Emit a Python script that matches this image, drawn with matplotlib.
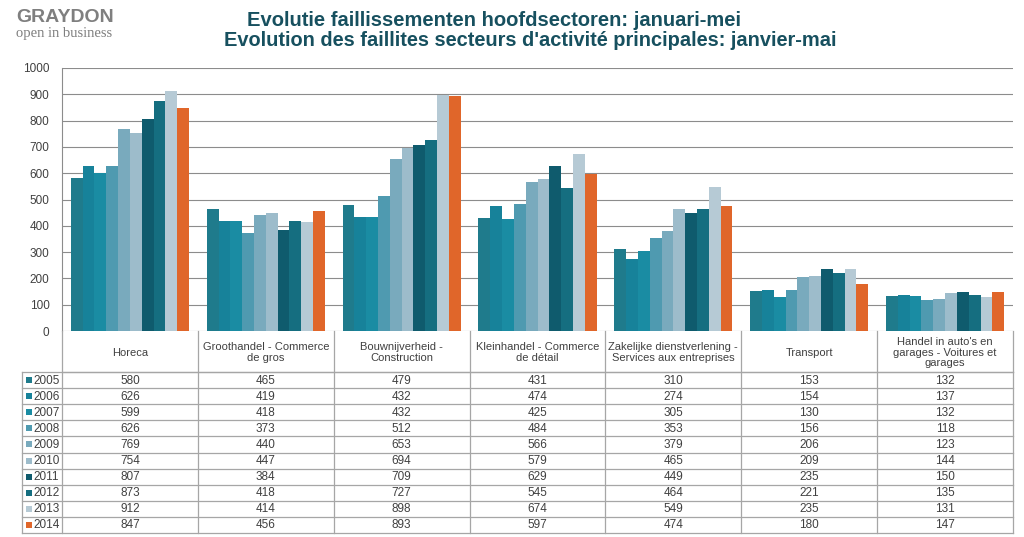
import matplotlib

matplotlib.use("Agg")
import matplotlib.pyplot as plt
import numpy as np

plt.rcParams["font.family"] = ["Liberation Sans", "DejaVu Sans"]

categories = [
    "Horeca",
    "Groothandel - Commerce\nde gros",
    "Bouwnijverheid -\nConstruction",
    "Kleinhandel - Commerce\nde détail",
    "Zakelijke dienstverlening -\nServices aux entreprises",
    "Transport",
    "Handel in auto's en\ngarages - Voitures et\ngarages",
]
years = ["2005", "2006", "2007", "2008", "2009", "2010", "2011", "2012", "2013", "2014"]
values = [
    [580, 465, 479, 431, 310, 153, 132],
    [626, 419, 432, 474, 274, 154, 137],
    [599, 418, 432, 425, 305, 130, 132],
    [626, 373, 512, 484, 353, 156, 118],
    [769, 440, 653, 566, 379, 206, 123],
    [754, 447, 694, 579, 465, 209, 144],
    [807, 384, 709, 629, 449, 235, 150],
    [873, 418, 727, 545, 464, 221, 135],
    [912, 414, 898, 674, 549, 235, 131],
    [847, 456, 893, 597, 474, 180, 147],
]
colors = [
    "#1f7b8c", "#17829a", "#1a8ca3", "#4f9ab0", "#79aabd",
    "#9dbccb", "#0f5b6d", "#156e80", "#b6cad5", "#e0662a",
]

W, H = 1024, 537
fig = plt.figure(figsize=(W / 100, H / 100), dpi=100)
fig.patch.set_facecolor("white")

# plot area in pixels
px_left, px_right, px_top, px_bottom = 62, 1013, 68, 331
ax = fig.add_axes([px_left / W, 1 - px_bottom / H,
                   (px_right - px_left) / W, (px_bottom - px_top) / H])

n_cat = len(categories)
n_ser = len(years)
group_w = 0.87
bw = group_w / n_ser
x = np.arange(n_cat)
for i, (yr, vals) in enumerate(zip(years, values)):
    ax.bar(x + 0.5 - group_w / 2 + bw * (i + 0.5), vals, width=bw,
           color=colors[i], linewidth=0, zorder=3)

ax.set_xlim(0, n_cat)
ax.set_ylim(0, 1000)
ax.set_yticks(np.arange(0, 1001, 100))
ax.set_xticks([])
ax.grid(axis="y", color="#8c8c8c", lw=0.8, zorder=0)
for s in ["top", "right", "bottom"]:
    ax.spines[s].set_visible(False)
ax.spines["left"].set_color("#8c8c8c")
ax.tick_params(axis="y", length=0, pad=9, labelsize=8.5, labelcolor="#404040")

# data table below the plot
tb = fig.add_axes([0, 0, 1, 1])
tb.set_xlim(0, W)
tb.set_ylim(H, 0)
tb.axis("off")
line_c = "#a6a6a6"
head_bot = 372
row_h = (533 - head_bot) / n_ser
cat_w = (px_right - px_left) / n_cat
leg_left = 22

for j in range(n_cat + 1):
    xx = px_left + j * cat_w
    tb.plot([xx, xx], [px_bottom, 533], color=line_c, lw=0.9)
tb.plot([px_left, px_right], [head_bot, head_bot], color=line_c, lw=0.9)
tb.plot([leg_left, leg_left], [head_bot, 533], color=line_c, lw=0.9)
for r in range(n_ser + 1):
    yy = head_bot + r * row_h
    tb.plot([leg_left, px_right], [yy, yy], color=line_c, lw=0.9)

for j, cat in enumerate(categories):
    tb.text(px_left + (j + 0.5) * cat_w, (px_bottom + head_bot) / 2 + 1, cat,
            ha="center", va="center", fontsize=8, color="#404040",
            linespacing=1.05)

for r, (yr, vals) in enumerate(zip(years, values)):
    yy = head_bot + (r + 0.5) * row_h
    tb.plot([29], [yy], marker="s", ms=4.5, color=colors[r], mew=0)
    tb.text(33, yy + 0.5, yr, ha="left", va="center", fontsize=8.5, color="#404040")
    for j, v in enumerate(vals):
        tb.text(px_left + (j + 0.5) * cat_w, yy + 0.5, str(v), ha="center",
                va="center", fontsize=8.5, color="#404040")

# titles
title_c = "#17505f"
fig.text(494 / W, 1 - 20 / H, "Evolutie faillissementen hoofdsectoren: januari-mei",
         ha="center", va="center", fontsize=14.5, fontweight="bold", color=title_c)
fig.text(530 / W, 1 - 40 / H,
         "Evolution des faillites secteurs d'activité principales: janvier-mai",
         ha="center", va="center", fontsize=14.4, fontweight="bold", color=title_c)

# logo
fig.text(16 / W, 1 - 18 / H, "GRAYDON", ha="left", va="center", fontsize=14,
         fontweight="bold", color="#7f7f7f")
fig.text(16 / W, 1 - 34 / H, "open in business", ha="left", va="center",
         fontsize=10.5, color="#7f7f7f", family="Liberation Serif")

fig.savefig("out.png", dpi=100)
